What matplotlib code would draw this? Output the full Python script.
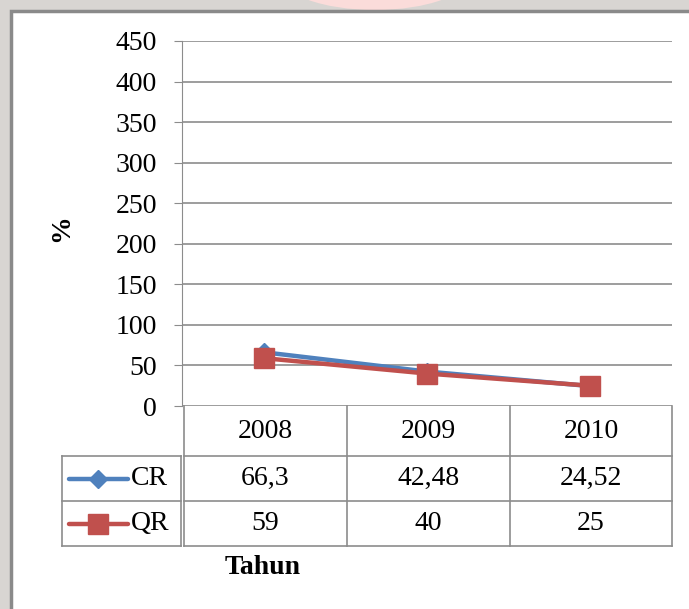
import matplotlib.pyplot as plt
from matplotlib.lines import Line2D
from matplotlib.patches import Rectangle, Ellipse

plt.rcParams['font.family'] = ['Liberation Serif', 'DejaVu Serif']

years = ['2008', '2009', '2010']
cr = [66.3, 42.48, 24.52]
qr = [59, 40, 25]
series_names = ['CR', 'QR']
y_ticks = [0, 50, 100, 150, 200, 250, 300, 350, 400, 450]

W, H = 689, 609
blue = '#4f81bd'
red = '#c0504d'
grid_c = '#8c8c8c'
fs = 20


def fx(x):
    return x / W


def fy(y):
    return 1 - y / H


def fmt(v):
    return ('%g' % v).replace('.', ',')


fig = plt.figure(figsize=(W / 100, H / 100), dpi=100)
fig.patch.set_facecolor('#d8d5d2')

# faint watermark showing through above the frame
fig.patches.append(Ellipse((fx(375), fy(-25)), fx(190), 70 / H, transform=fig.transFigure,
                           facecolor='#fbdcda', edgecolor='none', zorder=0))
# white chart area with dark frame
fig.patches.append(Rectangle((fx(11), fy(700)), fx(800), 689 / H, transform=fig.transFigure,
                             facecolor='white', edgecolor='#8a8a8a', lw=2.5, zorder=1))

ax = fig.add_axes([fx(182), fy(406), fx(672) - fx(182), (406 - 41) / H])
ax.set_facecolor('none')
ax.set_zorder(3)
x = list(range(len(years)))
ax.plot(x, cr, color=blue, lw=3.2, marker='D', ms=9, solid_capstyle='round', zorder=3)
ax.plot(x, qr, color=red, lw=3.2, marker='s', ms=14, solid_capstyle='round', zorder=4)
ax.set_xlim(-0.5, 2.5)
ax.set_ylim(0, 450)
ax.set_yticks(y_ticks)
ax.set_yticklabels([str(t) for t in y_ticks], fontsize=fs)
ax.set_xticks([])
ax.grid(axis='y', color=grid_c, lw=1.2)
for s in ['top', 'right', 'bottom']:
    ax.spines[s].set_visible(False)
ax.spines['left'].set_color(grid_c)
ax.tick_params(axis='y', length=6, color=grid_c, pad=12)
ax.set_axisbelow(True)

fig.text(fx(62), fy(228), '%', rotation=90, fontsize=fs, fontweight='bold',
         ha='center', va='center')

# data table under the plot
tab_lines = []
col_edges = [184, 347, 510, 672]
row_edges = [406, 456, 501, 546]
for cx in col_edges:
    tab_lines.append(([cx, cx], [row_edges[0], row_edges[-1]]))
for ry in row_edges[1:]:
    tab_lines.append(([col_edges[0], col_edges[-1]], [ry, ry]))
# legend key box
for ry in row_edges[1:]:
    tab_lines.append(([62, 181], [ry, ry]))
for cx in [62, 181]:
    tab_lines.append(([cx, cx], [row_edges[1], row_edges[-1]]))
for xs, ys in tab_lines:
    fig.add_artist(Line2D([fx(v) for v in xs], [fy(v) for v in ys], color=grid_c, lw=1.2,
                          transform=fig.transFigure, zorder=2))

for i, yr in enumerate(years):
    cx = (col_edges[i] + col_edges[i + 1]) / 2
    fig.text(fx(cx), fy((row_edges[0] + row_edges[1]) / 2), yr, fontsize=fs,
             ha='center', va='center', zorder=3)
    fig.text(fx(cx), fy((row_edges[1] + row_edges[2]) / 2), fmt(cr[i]), fontsize=fs,
             ha='center', va='center', zorder=3)
    fig.text(fx(cx), fy((row_edges[2] + row_edges[3]) / 2), fmt(qr[i]), fontsize=fs,
             ha='center', va='center', zorder=3)

keys = [(blue, 'D', 9), (red, 's', 14)]
for k, name in enumerate(series_names):
    ry = (row_edges[k + 1] + row_edges[k + 2]) / 2
    c, m, ms = keys[k]
    fig.add_artist(Line2D([fx(69), fx(128)], [fy(ry), fy(ry)], color=c, lw=3.2,
                          solid_capstyle='round', transform=fig.transFigure, zorder=3))
    fig.add_artist(Line2D([fx(98)], [fy(ry)], color=c, marker=m, ms=ms, lw=0,
                          transform=fig.transFigure, zorder=4))
    fig.text(fx(131), fy(ry), name, fontsize=fs, ha='left', va='center', zorder=3)

fig.text(fx(263), fy(567), 'Tahun', fontsize=fs, fontweight='bold', ha='center', va='center')

fig.savefig('out.png', dpi=100, facecolor=fig.get_facecolor())
